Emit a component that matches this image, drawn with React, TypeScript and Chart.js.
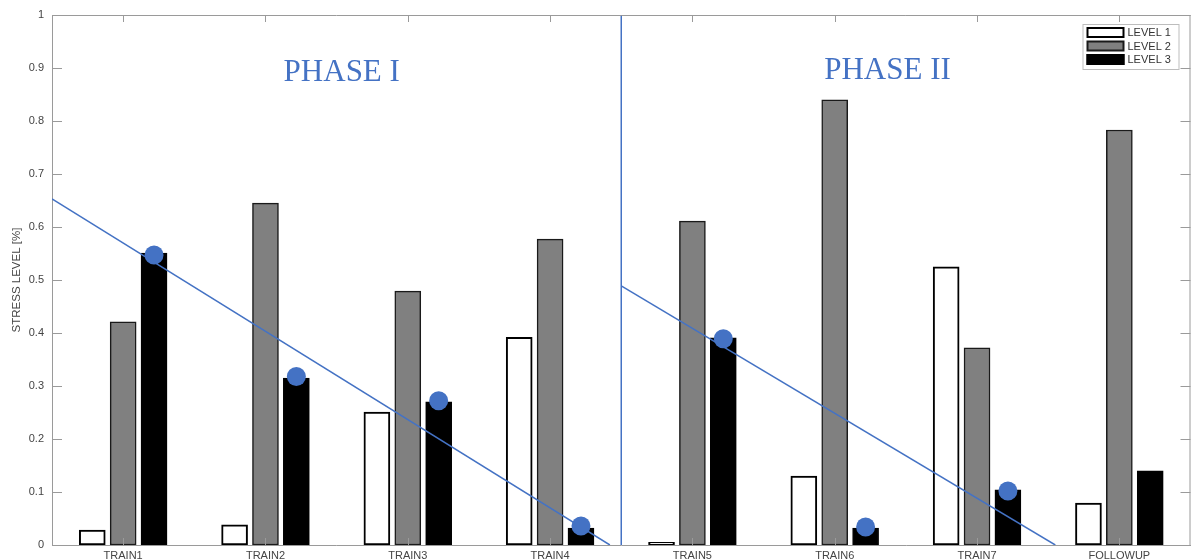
import React, { useEffect, useRef } from "react";
import { Chart, registerables } from "chart.js";

Chart.register(...registerables);

// ---------- data ----------
const categories = ["TRAIN1", "TRAIN2", "TRAIN3", "TRAIN4", "TRAIN5", "TRAIN6", "TRAIN7", "FOLLOWUP"];
const seriesLabels = ["LEVEL 1", "LEVEL 2", "LEVEL 3"];
const level1 = [0.028, 0.038, 0.251, 0.392, 0.005, 0.13, 0.525, 0.079];
const level2 = [0.421, 0.645, 0.479, 0.577, 0.611, 0.84, 0.372, 0.783];
const level3 = [0.551, 0.315, 0.27, 0.032, 0.391, 0.032, 0.104, 0.14];
// blue markers on the LEVEL 3 bars of TRAIN1..TRAIN7
const markerValues = [0.547, 0.318, 0.272, 0.036, 0.389, 0.034, 0.102];
// trend lines (x in category-index units)
const phase1TrendX = [-0.5, 3.42];
const phase1TrendY = [0.653, 0];
const phase2TrendX = [3.5, 6.55];
const phase2TrendY = [0.489, 0];
// phase separator
const phaseSplitX = [3.5, 3.5];
const phaseSplitY = [0, 1];
const phaseLabels = ["PHASE I", "PHASE II"];
const phaseLabelX = [1.536, 5.371];
const phaseLabelY = [0.875, 0.879];
const yTickLabels = ["0", "0.1", "0.2", "0.3", "0.4", "0.5", "0.6", "0.7", "0.8", "0.9", "1"];
const yTitle = "STRESS LEVEL [%]";

// ---------- styles ----------
const GROUP_FRAC = 0.651; // share of a category slot used by the 3-bar group
const SLOT = GROUP_FRAC / 3; // one bar slot, in category units
const BAR_PX = 26;
const BLUE = "#4472C4";
const AXIS = "#9a9a9a";
const SANS = "'Liberation Sans', Arial, Helvetica, sans-serif";
const SERIF = "'Liberation Serif', 'Times New Roman', serif";
const barFills = ["#ffffff", "#808080", "#000000"];
const barEdges = ["#000000", "#1a1a1a", "#000000"];
const barEdgeW = [2, 1.5, 1];

const toPts = (xs: number[], ys: number[]) => xs.map((x, i) => ({ x, y: ys[i] }));

const decorPlugin = {
  id: "decor",
  afterDatasetsDraw(chart: any) {
    const { ctx, chartArea: a, scales } = chart;
    const xs = scales.x;
    const ys = scales.y;
    const x2 = scales.x2;
    ctx.save();
    ctx.strokeStyle = AXIS;
    ctx.lineWidth = 1;
    ctx.beginPath();
    ctx.moveTo(a.left, a.top + 0.5);
    ctx.lineTo(a.right, a.top + 0.5);
    ctx.moveTo(a.right - 0.5, a.top);
    ctx.lineTo(a.right - 0.5, a.bottom);
    categories.forEach((_, i) => {
      const px = Math.round(xs.getPixelForValue(i)) + 0.5;
      ctx.moveTo(px, a.bottom);
      ctx.lineTo(px, a.bottom - 7);
      ctx.moveTo(px, a.top);
      ctx.lineTo(px, a.top + 7);
    });
    yTickLabels.forEach((_, i) => {
      const py = Math.round(ys.getPixelForValue(i / 10)) + 0.5;
      ctx.moveTo(a.left, py);
      ctx.lineTo(a.left + 10, py);
      ctx.moveTo(a.right, py);
      ctx.lineTo(a.right - 10, py);
    });
    ctx.stroke();

    ctx.fillStyle = BLUE;
    ctx.font = `31px ${SERIF}`;
    ctx.textAlign = "center";
    ctx.textBaseline = "alphabetic";
    phaseLabels.forEach((t, i) => {
      ctx.fillText(t, x2.getPixelForValue(phaseLabelX[i]), ys.getPixelForValue(phaseLabelY[i]));
    });
    ctx.restore();
  },
  afterDraw(chart: any) {
    const { ctx, chartArea: a } = chart;
    ctx.save();
    const bx = a.right - 108;
    const by = a.top + 9;
    const bw = 96;
    const bh = 45;
    ctx.fillStyle = "#ffffff";
    ctx.fillRect(bx, by, bw, bh);
    ctx.strokeStyle = "#bdbdbd";
    ctx.lineWidth = 1;
    ctx.strokeRect(bx + 0.5, by + 0.5, bw, bh);
    ctx.font = `11px ${SANS}`;
    ctx.textAlign = "left";
    ctx.textBaseline = "middle";
    seriesLabels.forEach((t, i) => {
      const sy = by + 3 + i * 13.5;
      ctx.fillStyle = barEdges[i];
      ctx.fillRect(bx + 4, sy, 38, 11);
      ctx.fillStyle = barFills[i];
      const inset = i === 2 ? 0 : 2;
      ctx.fillRect(bx + 4 + inset, sy + inset, 38 - 2 * inset, 11 - 2 * inset);
      ctx.fillStyle = "#333333";
      ctx.fillText(t, bx + 45, sy + 6);
    });
    ctx.restore();
  },
};

export default function App() {
  const ref = useRef<HTMLCanvasElement | null>(null);

  useEffect(() => {
    if (!ref.current) return;
    const barSets = [level1, level2, level3].map((d, k) => ({
      type: "bar" as const,
      label: seriesLabels[k],
      data: d.map((v, i) => ({ x: i + (k - 1) * SLOT, y: v })),
      xAxisID: "x2",
      grouped: false,
      barThickness: BAR_PX,
      backgroundColor: barFills[k],
      borderColor: barEdges[k],
      borderWidth: barEdgeW[k],
      borderSkipped: false,
      order: 3,
    }));
    const lineBase = {
      type: "line" as const,
      xAxisID: "x2",
      borderColor: BLUE,
      borderWidth: 1.5,
      pointRadius: 0,
      fill: false,
      order: 1,
    };
    const chart = new Chart(ref.current, {
      type: "bar",
      data: {
        labels: categories,
        datasets: [
          ...barSets,
          { ...lineBase, label: "trend1", data: toPts(phase1TrendX, phase1TrendY) },
          { ...lineBase, label: "trend2", data: toPts(phase2TrendX, phase2TrendY) },
          { ...lineBase, label: "split", data: toPts(phaseSplitX, phaseSplitY), clip: false },
          {
            type: "line" as const,
            label: "markers",
            xAxisID: "x2",
            data: markerValues.map((v, i) => ({ x: i + SLOT, y: v })),
            showLine: false,
            pointRadius: 9.5,
            pointBackgroundColor: BLUE,
            pointBorderWidth: 0,
            order: 0,
          },
        ] as any,
      },
      options: {
        responsive: false,
        maintainAspectRatio: false,
        devicePixelRatio: 1,
        animation: false,
        layout: { padding: { top: 15, left: 0, right: 5, bottom: 0 } },
        plugins: { legend: { display: false }, tooltip: { enabled: false } },
        scales: {
          x: {
            type: "category",
            offset: true,
            grid: { display: false, drawTicks: false },
            border: { display: true, color: AXIS, width: 1 },
            ticks: {
              font: { family: SANS, size: 11 },
              color: "#444444",
              padding: 4,
              maxRotation: 0,
              autoSkip: false,
            },
            afterFit: (s: any) => {
              s.height = 15;
            },
          },
          x2: {
            type: "linear",
            display: true,
            offset: false,
            min: -0.5,
            max: 7.5,
            position: "bottom",
            grid: { display: false, drawTicks: false, offset: false },
            border: { display: false },
            ticks: { display: false },
            afterFit: (s: any) => {
              s.height = 0;
            },
          },
          y: {
            type: "linear",
            min: 0,
            max: 1,
            grid: { display: false, drawTicks: false },
            border: { display: true, color: AXIS, width: 1 },
            ticks: {
              stepSize: 0.1,
              font: { family: SANS, size: 11 },
              color: "#444444",
              padding: 8,
              callback: (v: any) => yTickLabels[Math.round(Number(v) * 10)],
            },
            title: {
              display: true,
              text: yTitle,
              font: { family: SANS, size: 11.5 },
              color: "#444444",
              padding: { top: 10, bottom: 0 },
            },
            afterFit: (s: any) => {
              s.width = 52;
            },
          },
        },
      } as any,
      plugins: [decorPlugin],
    });
    return () => chart.destroy();
  }, []);

  return (
    <div
      style={{
        position: "fixed",
        left: 0,
        top: 0,
        width: 1191,
        height: 560,
        overflow: "hidden",
        background: "#ffffff",
      }}
    >
      <canvas ref={ref} width={1200} height={560} style={{ display: "block", width: 1200, height: 560 }} />
    </div>
  );
}
